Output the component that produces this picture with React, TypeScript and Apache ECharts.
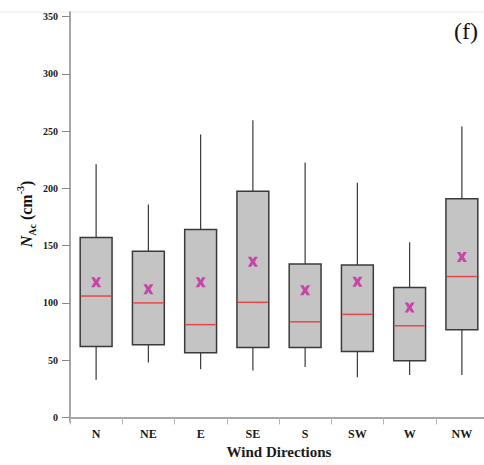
import React, { useEffect, useRef } from "react";
import * as echarts from "echarts";

const categories = ["N", "NE", "E", "SE", "S", "SW", "W", "NW"];
const whiskerLow = [33, 48, 42, 41, 44, 35, 37, 37];
const q1 = [62, 63.5, 56.5, 61, 61, 57.5, 49.5, 76.5];
const median = [106, 100, 81, 100.5, 83.5, 90, 80, 123];
const q3 = [157, 145, 164, 197.5, 134, 133, 113.5, 191];
const whiskerHigh = [221, 186, 247, 259.5, 222.5, 205, 153, 254];
const means = [118, 112, 118, 136, 111, 118.5, 96, 140];
const yTicks = [0, 50, 100, 150, 200, 250, 300, 350];

const SERIF = "'Liberation Serif', 'Times New Roman', serif";

export default function App() {
  const ref = useRef<HTMLDivElement>(null);
  useEffect(() => {
    if (!ref.current) return;
    const chart = echarts.init(ref.current, null, { renderer: "svg" });
    const boxData = categories.map((_, i) => [i, whiskerLow[i], q1[i], median[i], q3[i], whiskerHigh[i]]);
    const meanData = categories.map((_, i) => [i, means[i]]);
    chart.setOption({
      animation: false,
      backgroundColor: "#ffffff",
      grid: { left: 70, top: 12, width: 418, height: 410, outerBoundsMode: "none", containLabel: false },
      xAxis: {
        type: "category",
        data: categories,
        boundaryGap: true,
        axisLine: { lineStyle: { color: "#8a8a8a", width: 1.5 } },
        axisTick: { show: true, length: 7, lineStyle: { color: "#b5b5b5", width: 1 } },
        axisLabel: { fontFamily: SERIF, fontWeight: "bold", fontSize: 12, color: "#1a1a1a", margin: 6 },
        name: "Wind Directions",
        nameLocation: "middle",
        nameGap: 22,
        nameTextStyle: { fontFamily: SERIF, fontWeight: "bold", fontSize: 15, color: "#1a1a1a" },
        splitLine: { show: false },
      },
      yAxis: {
        type: "value",
        min: -4,
        max: 354,
        axisLine: { show: true, lineStyle: { color: "#8a8a8a", width: 1.5 } },
        axisTick: { show: true, length: 8, customValues: yTicks, lineStyle: { color: "#8a8a8a", width: 1 } },
        axisLabel: { customValues: yTicks, fontFamily: SERIF, fontWeight: "bold", fontSize: 10, color: "#1a1a1a", margin: 12 },
        splitLine: { show: false },
      },
      graphic: [
        {
          type: "line",
          shape: { x1: 0, y1: 12, x2: 484, y2: 12 },
          style: { stroke: "#ececec", lineWidth: 1 },
          z: -1,
        },
        {
          type: "text",
          x: 466,
          y: 31,
          style: {
            text: "(f)",
            fontFamily: SERIF,
            fontSize: 24,
            fill: "#111",
            align: "center",
            verticalAlign: "middle",
          },
        },
        {
          type: "text",
          x: 26,
          y: 214,
          rotation: Math.PI / 2,
          style: {
            text: "{n|N}{s|Ac}{t| (cm}{p|-3}{t|)}",
            align: "center",
            verticalAlign: "middle",
            fill: "#111",
            rich: {
              n: { fontFamily: SERIF, fontWeight: "bold", fontStyle: "italic", fontSize: 16, fill: "#111", lineHeight: 22 },
              s: { fontFamily: SERIF, fontWeight: "bold", fontSize: 10, fill: "#111", verticalAlign: "bottom", lineHeight: 22, padding: [7, 0, 0, 0] },
              t: { fontFamily: SERIF, fontWeight: "bold", fontSize: 16, fill: "#111", lineHeight: 22 },
              p: { fontFamily: SERIF, fontWeight: "bold", fontSize: 10, fill: "#111", verticalAlign: "top", lineHeight: 22, padding: [0, 0, 9, 0] },
            },
          },
        },
      ],
      series: [
        {
          type: "custom",
          data: boxData,
          renderItem: (params: any, api: any) => {
            const idx = api.value(0);
            const lo = api.coord([idx, api.value(1)]);
            const b1 = api.coord([idx, api.value(2)]);
            const md = api.coord([idx, api.value(3)]);
            const b3 = api.coord([idx, api.value(4)]);
            const hi = api.coord([idx, api.value(5)]);
            const w = api.size([1, 0])[0] * 0.61;
            const cx = lo[0];
            return {
              type: "group",
              children: [
                { type: "line", shape: { x1: cx, y1: hi[1], x2: cx, y2: b3[1] }, style: { stroke: "#3a3a3a", lineWidth: 1.2 } },
                { type: "line", shape: { x1: cx, y1: b1[1], x2: cx, y2: lo[1] }, style: { stroke: "#3a3a3a", lineWidth: 1.2 } },
                {
                  type: "rect",
                  shape: { x: cx - w / 2, y: b3[1], width: w, height: b1[1] - b3[1] },
                  style: { fill: "#c4c4c4", stroke: "#3a3a3a", lineWidth: 1.5 },
                },
                {
                  type: "line",
                  shape: { x1: cx - w / 2 + 1, y1: md[1], x2: cx + w / 2 - 1, y2: md[1] },
                  style: { stroke: "#e8474a", lineWidth: 1.5 },
                },
              ],
            };
          },
          z: 2,
        },
        {
          type: "scatter",
          data: meanData,
          symbol: "path://M0,0 L3.4,0 L5,2.6 L6.6,0 L10,0 L7,5 L10,10 L6.6,10 L5,7.4 L3.4,10 L0,10 L3,5 Z",
          symbolSize: 10,
          itemStyle: { color: "#c8279e" },
          z: 3,
        },
      ],
    });
    return () => chart.dispose();
  }, []);
  return <div ref={ref} style={{ width: 484, height: 465, position: "absolute", left: 0, top: 0 }} />;
}
